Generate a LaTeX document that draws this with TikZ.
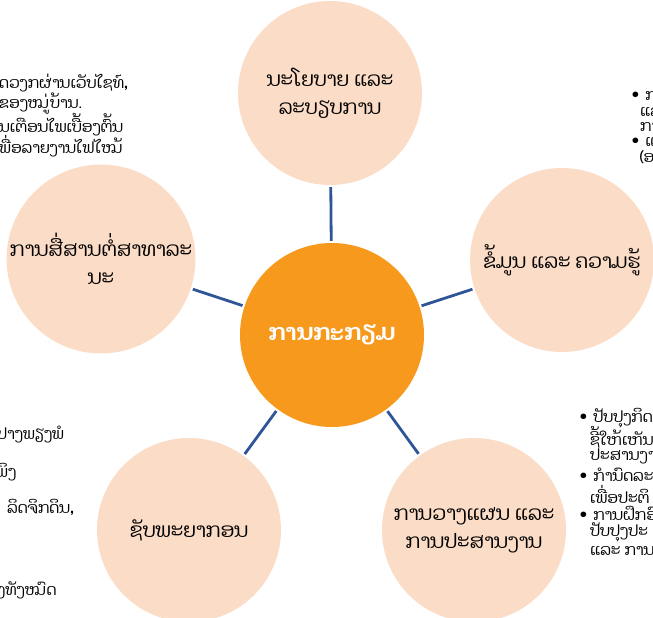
\documentclass[tikz,border=0pt]{standalone}
\usepackage{fontspec}
\newfontfamily\laofont[Script=Lao]{Dhyana}
\definecolor{hubcolor}{HTML}{F7991C}
\definecolor{petalcolor}{HTML}{FBDCC6}
\definecolor{linkcolor}{HTML}{2F5597}
\tikzset{
  hub/.style={circle, fill=hubcolor, minimum size=184pt, inner sep=0pt, align=center,
    text=white, font=\laofont\bfseries\fontsize{23}{28}\selectfont},
  petal/.style={circle, fill=petalcolor, minimum size=184pt, inner sep=0pt, align=center,
    font=\laofont\fontsize{20}{28}\selectfont},
  link/.style={draw=linkcolor, line width=2.8pt, shorten <=2pt, shorten >=2pt},
  side/.style={inner sep=0pt, anchor=west, font=\laofont\fontsize{15.5}{18}\selectfont}
}

\begin{document}
\begin{tikzpicture}[x=1pt,y=-1pt]
  \clip (0,0) rectangle (653,618);
  % Draw circles (hub and petals)
  \node[hub] (prep) at (332,335) {ການກະກຽມ};
  \node[petal] (policy) at (330,93) {ນະໂຍບາຍ ແລະ\\ລະບຽບການ};
  \node[petal] (info) at (562,260) {ຂໍ້ມູນ ແລະ ຄວາມຮູ້};
  \node[petal] (plan) at (474,530) {ການວາງແຜນ ແລະ\\ການປະສານງານ};
  \node[petal] (resource) at (189,530) {ຊັບພະຍາກອນ};
  \node[petal] (comms) at (101,259) {ການສື່ສານຕໍ່ສາທາລະ\\ນະ};
  % Draw circle connects
  \foreach \x in {policy,info,plan,resource,comms}{
    \draw[link] (prep) -- (\x);
  }
  % Side texts, cut by the frame
  \foreach [count=\i] \y/\t in {83/{ດວງກຜ່ານເວັບໄຊທ໌,}, 104/{ຂອງໝູ່ບ້ານ.},
      125/{ນເຕືອນໄພເບື້ອງຕົ້ນ}, 146/{ພື່ອລາຍງານໄຟໄໝ້}}{
    \node[side] (commsnote\i) at (-1,\y) {\t};
  }
  \foreach [count=\i] \x/\y/\t in {-3/435/{ປາງພຽງພໍ}, -4/472/{ພິງ},
      7/507/{ລິດຈິກດິນ,}, -3/590/{ງທັງໝົດ}}{
    \node[side] (resnote\i) at (\x,\y) {\t};
  }
  \foreach [count=\i] \x/\y/\t in {578/418/{• ປັບປຸງກິດ}, 590/437/{ຊີ້ໃຫ້ເຫັນ},
      590/456/{ປະສານງານ}, 578/475/{• ກຳນົດລະ}, 590/494/{ເພື່ອປະຕິ},
      578/513/{• ການຝຶກອົ}, 590/532/{ປັບປຸງປະ}, 590/551/{ແລະ ການ}}{
    \node[side] (plannote\i) at (\x,\y) {\t};
  }
  \foreach [count=\i] \x/\y/\t in {630/96/{• ການ}, 640/112/{ແລະ}, 640/127/{ການ},
      630/142/{• ແລະ}, 640/157/{(ອ}}{
    \node[side] (infonote\i) at (\x,\y) {\t};
  }
\end{tikzpicture}
\end{document}
